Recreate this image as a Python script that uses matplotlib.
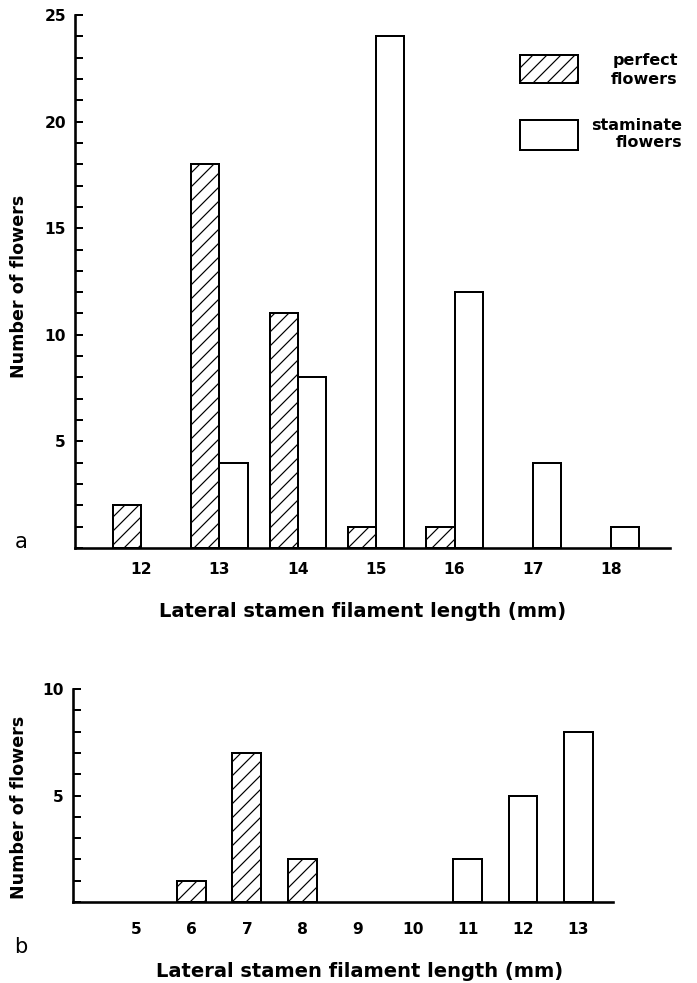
import numpy as np
import matplotlib
matplotlib.use("Agg")
import matplotlib.pyplot as plt
from matplotlib.patches import Rectangle

# ---- data ----
cats_a = [12, 13, 14, 15, 16, 17, 18]
perfect_a = [2, 18, 11, 1, 1, 0, 0]
staminate_a = [0, 4, 8, 24, 12, 4, 1]

cats_b = [5, 6, 7, 8, 9, 10, 11, 12, 13]
perfect_b = [0, 1, 7, 2, 0, 0, 0, 0, 0]
staminate_b = [0, 0, 0, 0, 0, 0, 2, 5, 8]

xlabel = "Lateral stamen filament length (mm)"
ylabel = "Number of flowers"
legend_labels = ["perfect\nflowers", "staminate\nflowers"]

DPI = 84
PX = 72.0 / DPI  # points per pixel
W, H = 697, 983

plt.rcParams['font.family'] = ['DejaVu Sans']
plt.rcParams['font.weight'] = 'bold'
plt.rcParams['hatch.linewidth'] = 1.2 * PX
plt.rcParams['hatch.color'] = 'black'

fig = plt.figure(figsize=(W / DPI, H / DPI), dpi=DPI)
ax1 = fig.add_axes([75 / W, 1 - 548 / H, 595 / W, 533 / H])
ax2 = fig.add_axes([73 / W, 1 - 902 / H, 540 / W, 213 / H])

edge_lw = 2.0 * PX
HATCH = '//'
TICK_FS = 15.5 * PX


def style(ax, ymax, xpad_px):
    for s in ('top', 'right'):
        ax.spines[s].set_visible(False)
    for s in ('left', 'bottom'):
        ax.spines[s].set_linewidth(2.6 * PX)
    ax.set_ylim(0, ymax)
    ax.set_yticks(list(range(5, ymax + 1, 5)))
    ax.set_yticks(list(range(0, ymax + 1)), minor=True)
    ax.tick_params(axis='y', which='both', direction='in', length=8 * PX,
                   width=2.0 * PX, pad=9 * PX, labelsize=TICK_FS)
    ax.tick_params(axis='x', which='both', length=0, pad=xpad_px * PX,
                   labelsize=TICK_FS)


# ---- panel a ----
ca = np.array(cats_a, dtype=float)
pa = np.array(perfect_a)
sa = np.array(staminate_a)
wa = 0.36
m = pa > 0
ax1.bar(ca[m] - wa / 2, pa[m], width=wa, facecolor='white', edgecolor='black',
        linewidth=edge_lw, hatch=HATCH)
m = sa > 0
ax1.bar(ca[m] + wa / 2, sa[m], width=wa, facecolor='white', edgecolor='black',
        linewidth=edge_lw)
ax1.set_xlim(11.157, 18.75)
style(ax1, 25, 14)
ax1.set_xticks(cats_a)
ax1.set_xlabel(xlabel, fontsize=19.5 * PX, fontweight='bold')
ax1.xaxis.set_label_coords(0.484, -0.101)
ax1.set_ylabel(ylabel, fontsize=17.5 * PX, fontweight='bold')
ax1.yaxis.set_label_coords(-0.079, 0.49)

# legend (manual, as in the original figure)
ax1.add_patch(Rectangle((0.748, 0.872), 0.097, 0.053, transform=ax1.transAxes,
                        facecolor='white', edgecolor='black', linewidth=edge_lw,
                        hatch=HATCH, clip_on=False))
ax1.add_patch(Rectangle((0.748, 0.747), 0.097, 0.056, transform=ax1.transAxes,
                        facecolor='white', edgecolor='black', linewidth=edge_lw,
                        clip_on=False))
ax1.text(1.013, 0.897, legend_labels[0], transform=ax1.transAxes, ha='right',
         va='center', multialignment='right', fontsize=16 * PX,
         fontweight='bold', linespacing=1.35)
ax1.text(1.020, 0.777, legend_labels[1], transform=ax1.transAxes, ha='right',
         va='center', multialignment='right', fontsize=16 * PX,
         fontweight='bold', linespacing=1.2)

# ---- panel b ----
cb = np.array(cats_b, dtype=float)
pb = np.array(perfect_b)
sb = np.array(staminate_b)
wb = 0.525
m = pb > 0
ax2.bar(cb[m], pb[m], width=wb, facecolor='white', edgecolor='black',
        linewidth=edge_lw, hatch=HATCH)
m = sb > 0
ax2.bar(cb[m], sb[m], width=wb, facecolor='white', edgecolor='black',
        linewidth=edge_lw)
ax2.set_xlim(3.85, 13.63)
style(ax2, 10, 20)
ax2.set_xticks(cats_b)
ax2.set_xlabel(xlabel, fontsize=19.5 * PX, fontweight='bold')
ax2.xaxis.set_label_coords(0.53, -0.282)
ax2.set_ylabel(ylabel, fontsize=17.5 * PX, fontweight='bold')
ax2.yaxis.set_label_coords(-0.083, 0.446)

# panel letters
fig.text(15 / W, 1 - 548 / H, 'a', fontsize=21 * PX, fontweight='normal',
         va='baseline', ha='left')
fig.text(14 / W, 1 - 953 / H, 'b', fontsize=21 * PX, fontweight='normal',
         va='baseline', ha='left')

fig.savefig('out.png', dpi=DPI)
